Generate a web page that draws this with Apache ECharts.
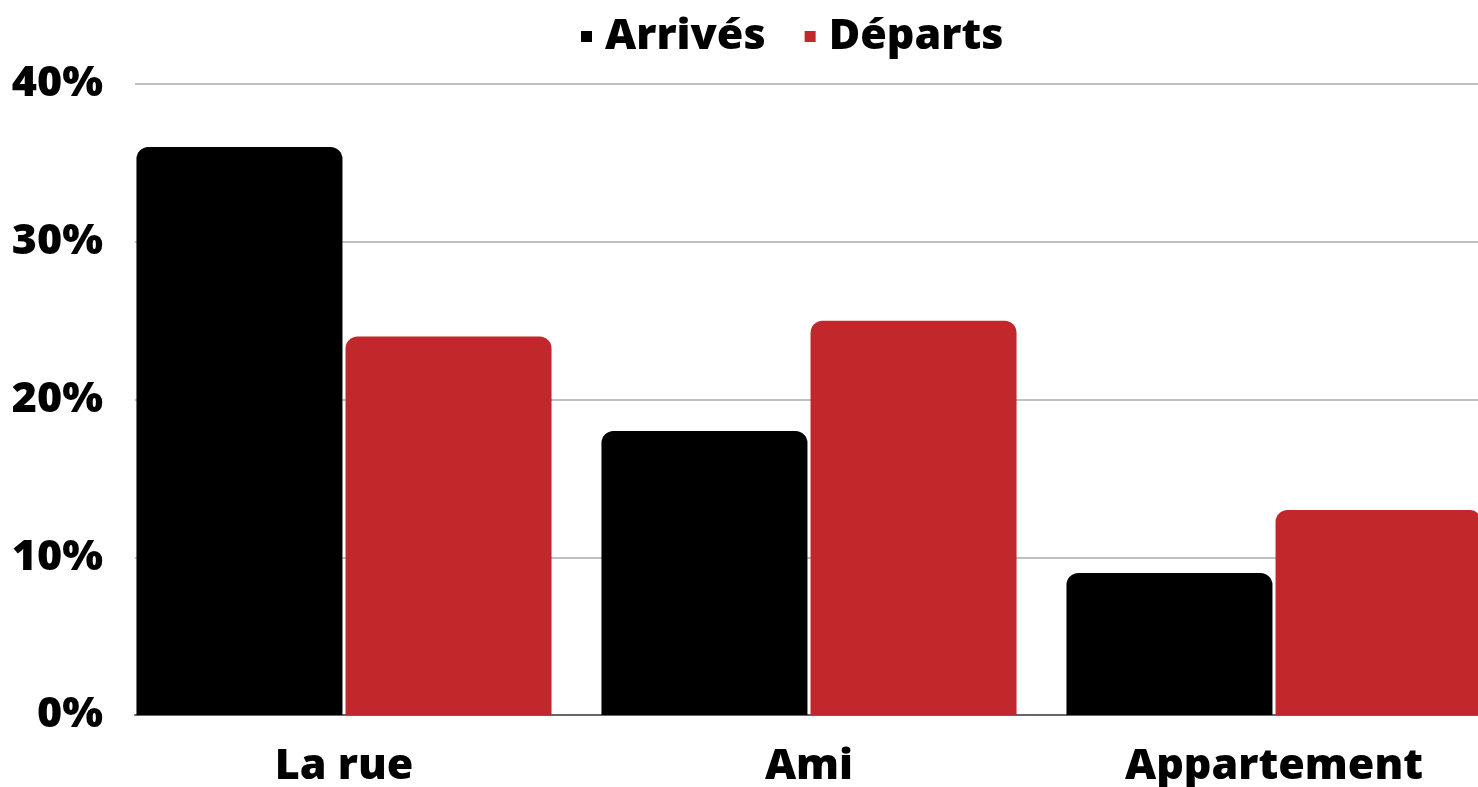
<!DOCTYPE html>
<html>
<head>
<meta charset="utf-8">
<script type="text/javascript" src="https://cdn.jsdelivr.net/npm/echarts@6/dist/echarts.min.js"></script>
<style>
  html, body { margin: 0; padding: 0; background: #fff; }
  #main { width: 1478px; height: 787px; }
</style>
</head>
<body>
<div id="main"></div>
<script type="text/javascript">
    // données
    var categories = ['La rue', 'Ami', 'Appartement'];
    var arrives = [36, 18, 9];
    var departs = [24, 25, 13];

    var font = '"Open Sans", sans-serif';
    var myChart = echarts.init(document.getElementById('main'));

    var option = {
        textStyle: { fontFamily: font },
        legend: {
            data: ['Arrivés', 'Départs'],
            top: 10,
            left: 576,
            icon: 'rect',
            itemWidth: 11,
            itemHeight: 11,
            itemGap: 39,
            textStyle: { fontFamily: font, fontWeight: 800, fontSize: 43, color: '#000', padding: [0, 0, 0, 8] }
        },
        // grille 0 : axe des % et lignes ; grille 1 : les barres (débordent à droite)
        grid: [
            { left: 135, right: 0, top: 84, bottom: 72, outerBoundsMode: 'none' },
            { left: 111.5, width: 1395, top: 84, bottom: 72, outerBoundsMode: 'none' }
        ],
        xAxis: [
            {
                gridIndex: 0, type: 'value', min: 0, max: 1,
                axisLine: { show: true, onZero: false, lineStyle: { color: '#666', width: 2 } },
                axisTick: { show: false }, axisLabel: { show: false }, splitLine: { show: false }
            },
            {
                gridIndex: 1, type: 'category', data: categories,
                axisLine: { show: false }, axisTick: { show: false },
                axisLabel: { margin: 30, fontFamily: font, fontWeight: 800, fontSize: 43, color: '#000' }
            }
        ],
        yAxis: [
            {
                gridIndex: 0, type: 'value', min: 0, max: 40, interval: 10,
                axisLine: { show: false }, axisTick: { show: false },
                axisLabel: { formatter: '{value}%', margin: 32, fontFamily: font, fontWeight: 800, fontSize: 43, color: '#000' },
                splitLine: { lineStyle: { color: '#c0c0c0', width: 2 } }
            },
            {
                gridIndex: 1, type: 'value', min: 0, max: 40, interval: 10,
                axisLine: { show: false }, axisTick: { show: false },
                axisLabel: { show: false }, splitLine: { show: false }
            }
        ],
        series: [
            {
                name: 'Arrivés', type: 'bar', xAxisIndex: 1, yAxisIndex: 1,
                data: arrives, barWidth: 206, barGap: '1.5%',
                itemStyle: { color: '#000000', borderRadius: [12, 12, 0, 0] }
            },
            {
                name: 'Départs', type: 'bar', xAxisIndex: 1, yAxisIndex: 1,
                data: departs, barWidth: 206, barGap: '1.5%',
                itemStyle: { color: '#c1272b', borderRadius: [12, 12, 0, 0] }
            }
        ]
    };

    myChart.setOption(option);
</script>
</body>
</html>
